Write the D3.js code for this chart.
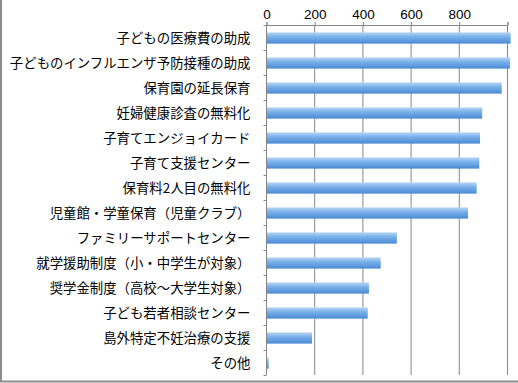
<!DOCTYPE html>
<html>
<head>
<meta charset="utf-8">
<script src="https://cdn.jsdelivr.net/npm/d3@7"></script>
<style>
  body { margin: 0; background: #fff; }
  svg { display: block; font-family: "Noto Sans CJK JP", "Noto Sans", sans-serif; }
</style>
</head>
<body>
<div id="chart"></div>
<script>
// data
const categories = [
  "子どもの医療費の助成",
  "子どものインフルエンザ予防接種の助成",
  "保育園の延長保育",
  "妊婦健康診査の無料化",
  "子育てエンジョイカード",
  "子育て支援センター",
  "保育料2人目の無料化",
  "児童館・学童保育（児童クラブ）",
  "ファミリーサポートセンター",
  "就学援助制度（小・中学生が対象）",
  "奨学金制度（高校～大学生対象）",
  "子ども若者相談センター",
  "島外特定不妊治療の支援",
  "その他"
];
const values = [1013, 1010, 976, 895, 886, 883, 872, 836, 541, 474, 425, 420, 189, 9];
const tickValues = [0, 200, 400, 600, 800, 1000];
const tickLabels = ["0", "200", "400", "600", "800"];

const W = 518, H = 383;
const margin = { top: 25, left: 266.5 };
const plotW = 241, plotH = 350;

const svg = d3.select("#chart").append("svg")
    .attr("width", W)
    .attr("height", H);

// bar gradient
const grad = svg.append("defs").append("linearGradient")
    .attr("id", "barGrad")
    .attr("x1", 0).attr("y1", 0).attr("x2", 0).attr("y2", 1);
grad.append("stop").attr("offset", "0%").attr("stop-color", "#b9d6f4");
grad.append("stop").attr("offset", "40%").attr("stop-color", "#79b0ea");
grad.append("stop").attr("offset", "100%").attr("stop-color", "#4a8ad4");

// outer frame (only left and bottom edges are visible)
svg.append("line")
    .attr("x1", 1).attr("x2", 1).attr("y1", 0).attr("y2", 382)
    .attr("stroke", "#8c8c8c").attr("stroke-width", 2);
svg.append("line")
    .attr("x1", 0).attr("x2", W).attr("y1", 381.5).attr("y2", 381.5)
    .attr("stroke", "#8c8c8c").attr("stroke-width", 2);

const g = svg.append("g")
    .attr("transform", `translate(${margin.left},${margin.top})`);

const x = d3.scaleLinear().domain([0, 1000]).range([0, plotW]);
const y = d3.scaleBand().domain(categories).range([0, plotH]).paddingInner(0.55).paddingOuter(0.275);
const yEdges = d3.scaleLinear().domain([0, categories.length]).range([0, plotH]);

// vertical gridlines
g.selectAll(".grid")
    .data(tickValues.slice(1))
    .enter().append("line")
    .attr("class", "grid")
    .attr("x1", d => x(d)).attr("x2", d => x(d))
    .attr("y1", 0).attr("y2", plotH)
    .attr("stroke", "#868686").attr("stroke-width", 1);

// bars
g.selectAll(".bar")
    .data(values)
    .enter().append("rect")
    .attr("class", "bar")
    .attr("x", 0)
    .attr("y", (d, i) => y(categories[i]) + 0.5)
    .attr("width", d => x(d))
    .attr("height", y.bandwidth())
    .attr("fill", "url(#barGrad)");

// top axis
const xAxis = g.append("g")
    .call(d3.axisTop(x).tickValues(tickValues).tickSize(3).tickFormat((d, i) => tickLabels[i] || ""));
xAxis.select(".domain").attr("stroke", "#868686");
xAxis.selectAll(".tick line").attr("stroke", "#868686");
xAxis.selectAll(".tick text")
    .attr("fill", "#000")
    .style("font-size", "13.5px")
    .attr("y", -6);

// left axis with ticks at category boundaries
g.append("line")
    .attr("x1", 0).attr("x2", 0).attr("y1", 0).attr("y2", plotH)
    .attr("stroke", "#868686");
g.selectAll(".ytick")
    .data(d3.range(categories.length + 1))
    .enter().append("line")
    .attr("class", "ytick")
    .attr("x1", -3).attr("x2", 0)
    .attr("y1", d => Math.round(yEdges(d)) + 0.5)
    .attr("y2", d => Math.round(yEdges(d)) + 0.5)
    .attr("stroke", "#868686");

// category labels
g.selectAll(".label")
    .data(categories)
    .enter().append("text")
    .attr("class", "label")
    .attr("x", -16)
    .attr("y", d => y(d) + y.bandwidth() / 2 + 1)
    .attr("dy", "0.35em")
    .attr("text-anchor", "end")
    .style("font-size", "13.4px")
    .attr("fill", "#000")
    .text(d => d);
</script>
</body>
</html>
